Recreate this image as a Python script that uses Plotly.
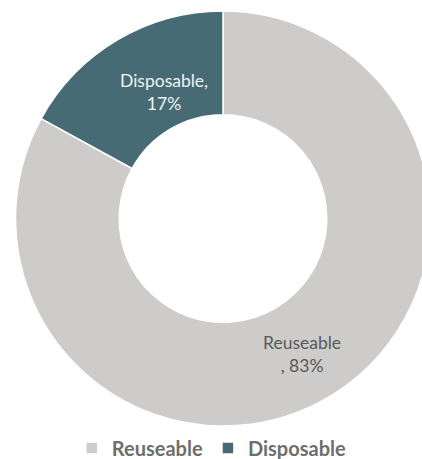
import plotly.graph_objects as go

labels = ["Reuseable", "Disposable"]
values = [83, 17]
colors = ["#CDCCCA", "#466B74"]
label_text = ["Reuseable<br>, 83%", "Disposable,<br>17%"]
label_colors = ["#595959", "#F2F2F2"]

W, H = 446, 459
mt, mb = 11, 33
ph = H - mt - mb

fig = go.Figure(go.Pie(
    labels=labels, values=values, hole=0.5, sort=False,
    direction="clockwise", rotation=0,
    marker=dict(colors=colors, line=dict(color="white", width=1.5)),
    textinfo="none", hoverinfo="label+percent",
))

# label centres in pixels
pos = [(302, 354), (164, 92)]
for t, c, (px, py) in zip(label_text, label_colors, pos):
    fig.add_annotation(x=px / W, y=(H - mb - py) / ph, xref="paper", yref="paper",
                       xanchor="center", yanchor="middle",
                       text=t, showarrow=False, font=dict(family="Lato", size=17.5, color=c),
                       align="center")

fig.update_layout(
    width=W, height=H, margin=dict(l=0, r=0, t=mt, b=mb, autoexpand=False),
    paper_bgcolor="white", plot_bgcolor="white",
    showlegend=True,
    legend=dict(orientation="h", x=0.475, xanchor="center", xref="container",
                y=(H - 448) / H, yanchor="middle", yref="container",
                font=dict(family="Lato", size=20, color="#6E6E6E", weight="bold"), itemwidth=30),
)
fig.write_html("out.html", config={"displayModeBar": False},
               post_script="document.body.style.overflow='hidden';document.body.style.margin='0';")
